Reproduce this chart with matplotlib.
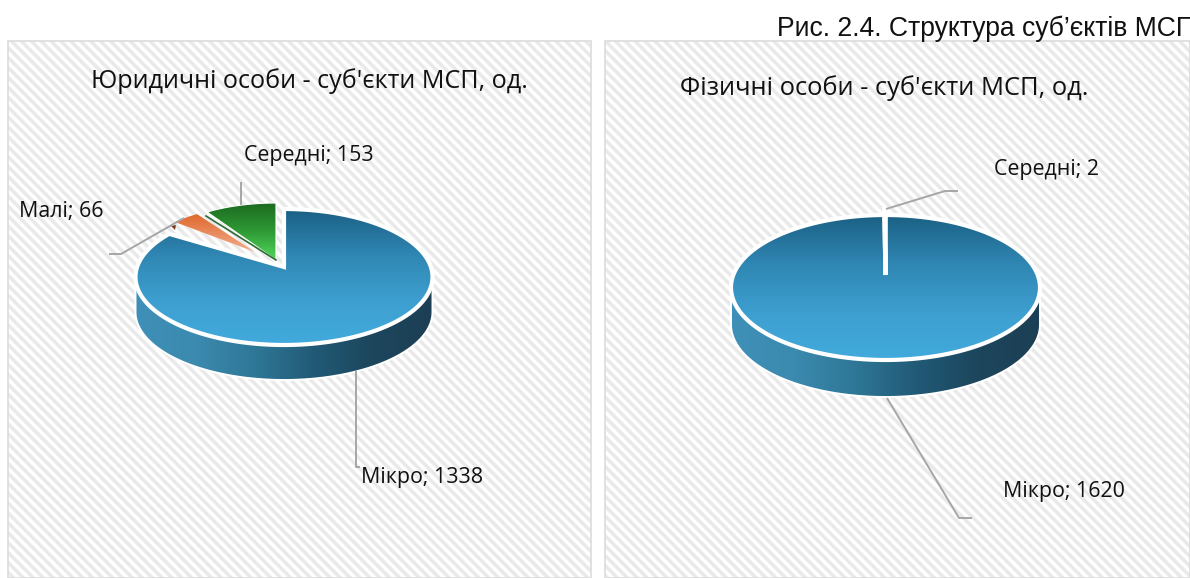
import numpy as np
import matplotlib
matplotlib.use("Agg")
import matplotlib.pyplot as plt
from matplotlib.colors import LinearSegmentedColormap as LSC
from matplotlib.patches import Polygon, Rectangle

categories = ["Мікро", "Малі", "Середні"]
legal_values = [1338, 66, 153]
physical_values = [1620, 0, 2]
caption = "Рис. 2.4. Структура суб’єктів МСП"
legal_title = "Юридичні особи - суб'єкти МСП, од."
physical_title = "Фізичні особи - суб'єкти МСП, од."

LBL = ["Open Sans", "Noto Sans", "DejaVu Sans"]
W, H = 1190, 578
fig = plt.figure(figsize=(W / 100, H / 100), dpi=100)
ax = fig.add_axes([0, 0, 1, 1])
ax.axis("off")


def spans(values):
    a = np.cumsum([0] + list(values)) / sum(values) * 2 * np.pi
    return list(zip(a[:-1], a[1:]))


def rim(cx, cy, rx, ry, t0, t1, n=160):
    t = np.linspace(t0, t1, n)
    return np.c_[cx + rx * np.sin(t), cy - ry * np.cos(t)]


def fill(poly, colors, horizontal=False, z=2):
    x0, y0 = poly.min(0)
    x1, y1 = poly.max(0)
    g = np.linspace(0, 1, 256)
    g = g[None, :] if horizontal else g[:, None]
    im = ax.imshow(g, cmap=LSC.from_list("g", colors), extent=(x0, x1, y1, y0),
                   aspect="auto", origin="upper", zorder=z, vmin=0, vmax=1)
    p = Polygon(poly, closed=True, transform=ax.transData, fc="none", ec="none")
    ax.add_patch(p)
    im.set_clip_path(p)


def panel(x0, x1, y0=41, y1=578):
    xx, yy = np.meshgrid(np.arange(x0, x1), np.arange(y0, y1))
    s = ((xx - yy) % 9.9) / 9.9
    v = np.clip(0.5 + 0.9 * np.cos(2 * np.pi * s), 0, 1)
    ax.imshow(v, cmap=LSC.from_list("h", ["#ffffff", "#e9e9e9"]), vmin=0, vmax=1,
              extent=(x0, x1, y1, y0), aspect="auto", origin="upper", zorder=0)
    ax.add_patch(Rectangle((x0, y0), x1 - x0, y1 - y0, fc="none", ec="#dcdcdc", lw=1.2, zorder=1))


def leader(pts):
    xs, ys = zip(*pts)
    ax.plot(xs, ys, color="#a6a6a6", lw=1.4, zorder=6, solid_capstyle="butt")


SIDE = ["#3f90b8", "#3b8aaf", "#2f7797", "#215a76", "#1c465c", "#1c3f55"]
TOP = ["#1b6085", "#2f86b2", "#3d9fcf", "#42aadd"]


def main_slice(span, cx, cy, rx, ry, ax_y, depth):
    t0, t1 = span
    front = rim(cx, cy, rx, ry, np.pi / 2, 3 * np.pi / 2)
    side = np.r_[front, (front + [0, depth])[::-1]]
    fill(side, SIDE, horizontal=True, z=2)
    ax.add_patch(Polygon(side, closed=True, fc="none", ec="white", lw=1.4, zorder=2.5))
    top = np.r_[[[cx, ax_y]], rim(cx, cy, rx, ry, t0, t1)]
    fill(top, TOP, z=3)
    ax.add_patch(Polygon(top, closed=True, fc="none", ec="white", lw=3.0, joinstyle="miter", zorder=4))


panel(8, 591)
panel(605, 1190)

# left pie
s = spans(legal_values)
main_slice(s[0], 284, 277, 148.5, 68, 267, 35)
org = np.r_[[[255, 252]], rim(262.5, 250, 113, 44, *s[1])]
fill(org, ["#e0682c", "#f2ae8e"], z=5)
grn = np.r_[[[276, 260]], rim(276, 252, 119, 49, *s[2])]
fill(grn, ["#1c6a20", "#2f9a35", "#52d85e"], z=5)
ax.add_patch(Polygon(grn, closed=True, fc="none", ec="white", lw=0.8, zorder=5))
ax.plot([206, 276], [216, 260], color="#2e6b35", lw=1.2, zorder=5)
ax.add_patch(Polygon([(171, 226), (176, 225), (175, 230)], closed=True, fc="#7a3a20", ec="none", zorder=5))
leader([(356, 371), (356, 467), (360, 467)])
leader([(184, 218), (121, 254), (109, 254)])
leader([(241, 205), (241, 182)])

# right pie
s2 = spans(physical_values)
main_slice(s2[0], 885.5, 287.5, 154.5, 72.5, 275, 37)
sl = np.r_[[[885.5, 275]], rim(885.5, 287.5, 154.5, 72.5, *s2[2], n=10) + [0, -6]]
ax.add_patch(Polygon(sl, closed=True, fc="white", ec="white", lw=3, zorder=5))
leader([(886, 209), (945, 191), (958, 191)])
leader([(887, 398), (959, 518), (972, 518)])

# text
ax.text(777, 29, caption, fontsize=19.1, family="Liberation Sans", ha="left", va="center",
        color="#111111", clip_on=True, zorder=7)
ax.text(309.5, 81, legal_title, fontsize=18.1, family=LBL, ha="center", va="center", color="#111111", zorder=7)
ax.text(884.5, 88, physical_title, fontsize=18.4, family=LBL, ha="center", va="center", color="#111111", zorder=7)


def label(x, y, c, v):
    ax.text(x, y, f"{c}; {v}", fontsize=15.4, family=LBL, ha="left", va="center", color="#111111", zorder=7)


label(244, 156, categories[2], legal_values[2])
label(19, 212, categories[1], legal_values[1])
label(361, 478, categories[0], legal_values[0])
label(994, 169, categories[2], physical_values[2])
label(1003, 492, categories[0], physical_values[0])

ax.set_xlim(0, W)
ax.set_ylim(H, 0)
fig.savefig("out.png", dpi=100, facecolor="white")
